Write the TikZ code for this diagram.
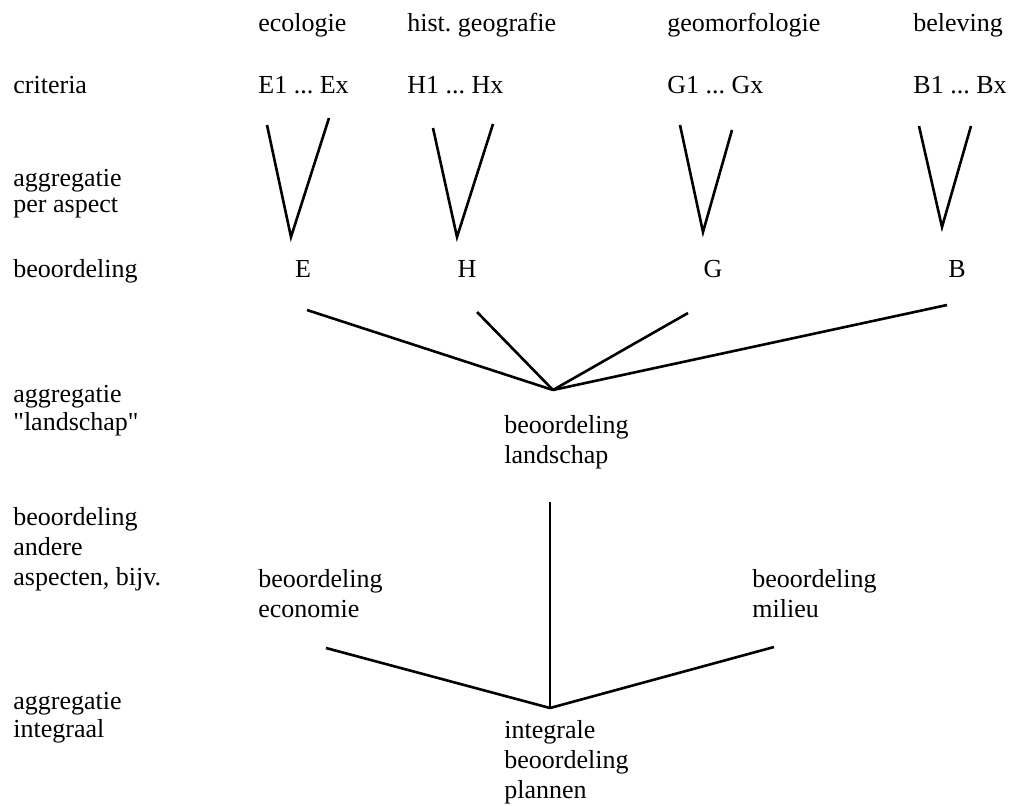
\documentclass[tikz,border=0pt]{standalone}
\usepackage{fontspec}
\setmainfont{Liberation Serif}
\frenchspacing
\def\colE{258}
\def\colH{407}
\def\colG{667}
\def\colB{913}

\begin{document}
\begin{tikzpicture}[x=0.5pt,y=-0.5pt,
    txt/.style={anchor=base west, inner sep=0pt, align=left, font=\fontsize{13}{15}\selectfont},
    letter/.style={anchor=base, inner sep=0pt, font=\fontsize{13}{15}\selectfont},
    lijn/.style={line width=1.3pt}]
    \useasboundingbox (0,0) rectangle (1018,805);

    % aspecten en criteria
    \node[txt] (eco) at (\colE, 31) {ecologie};
    \node[txt] (hist) at (\colH, 31) {hist. geografie};
    \node[txt] (geo) at (\colG, 31) {geomorfologie};
    \node[txt] (bel) at (\colB, 31) {beleving};

    \node[txt] (crit) at (13, 93) {criteria};
    \node[txt] (ecrit) at (\colE, 93) {E1 ... Ex};
    \node[txt] (hcrit) at (\colH, 93) {H1 ... Hx};
    \node[txt] (gcrit) at (\colG, 93) {G1 ... Gx};
    \node[txt] (bcrit) at (\colB, 93) {B1 ... Bx};

    % linker kolom (base = laatste regel)
    \node[txt] (aggr1) at (13, 212) {aggregatie\\[-2pt]per aspect};
    \node[txt] (beo1) at (13, 277) {beoordeling};
    \node[txt] (aggr2) at (13, 430) {aggregatie\\[-1pt]\textquotedbl landschap\textquotedbl};
    \node[txt] (beo2) at (13, 585) {beoordeling\\andere\\aspecten, bijv.};
    \node[txt] (aggr3) at (13, 737) {aggregatie\\[-1pt]integraal};

    % beoordeling per aspect
    \node[letter] (E) at (303, 277) {E};
    \node[letter] (H) at (467, 277) {H};
    \node[letter] (G) at (713, 277) {G};
    \node[letter] (B) at (957, 277) {B};

    \node[txt] (land) at (504, 463) {beoordeling\\landschap};
    \node[txt] (econ) at (258, 617) {beoordeling\\economie};
    \node[txt] (mil) at (752, 617) {beoordeling\\milieu};
    \node[txt] (integ) at (504, 798) {integrale\\beoordeling\\plannen};

    % de V's
    \coordinate (eL) at (267,125);
    \coordinate (eV) at (291,237);
    \coordinate (eR) at (329,118);
    \coordinate (hL) at (433,128);
    \coordinate (hV) at (457,237);
    \coordinate (hR) at (493,124);
    \coordinate (gL) at (680,125);
    \coordinate (gV) at (703,232);
    \coordinate (gR) at (732,130);
    \coordinate (bL) at (919,126);
    \coordinate (bV) at (942,227);
    \coordinate (bR) at (971,126);

    \draw[lijn] (eL) -- (eV) -- (eR);
    \draw[lijn] (hL) -- (hV) -- (hR);
    \draw[lijn] (gL) -- (gV) -- (gR);
    \draw[lijn] (bL) -- (bV) -- (bR);

    % aggregatie landschap
    \coordinate (eTop) at (307,310);
    \coordinate (hTop) at (477,312);
    \coordinate (gTop) at (688,313);
    \coordinate (bTop) at (947,305);
    \coordinate (landPt) at (553,390);

    \draw[lijn] (eTop) -- (landPt);
    \draw[lijn] (hTop) -- (landPt);
    \draw[lijn] (gTop) -- (landPt);
    \draw[lijn] (bTop) -- (landPt);

    % aggregatie integraal
    \coordinate (landLo) at (550,502);
    \coordinate (econPt) at (326,648);
    \coordinate (milPt) at (774,647);
    \coordinate (integPt) at (550,708);

    \draw[line width=1pt] (landLo) -- (integPt);
    \draw[lijn] (econPt) -- (integPt);
    \draw[lijn] (milPt) -- (integPt);

\end{tikzpicture}
\end{document}
